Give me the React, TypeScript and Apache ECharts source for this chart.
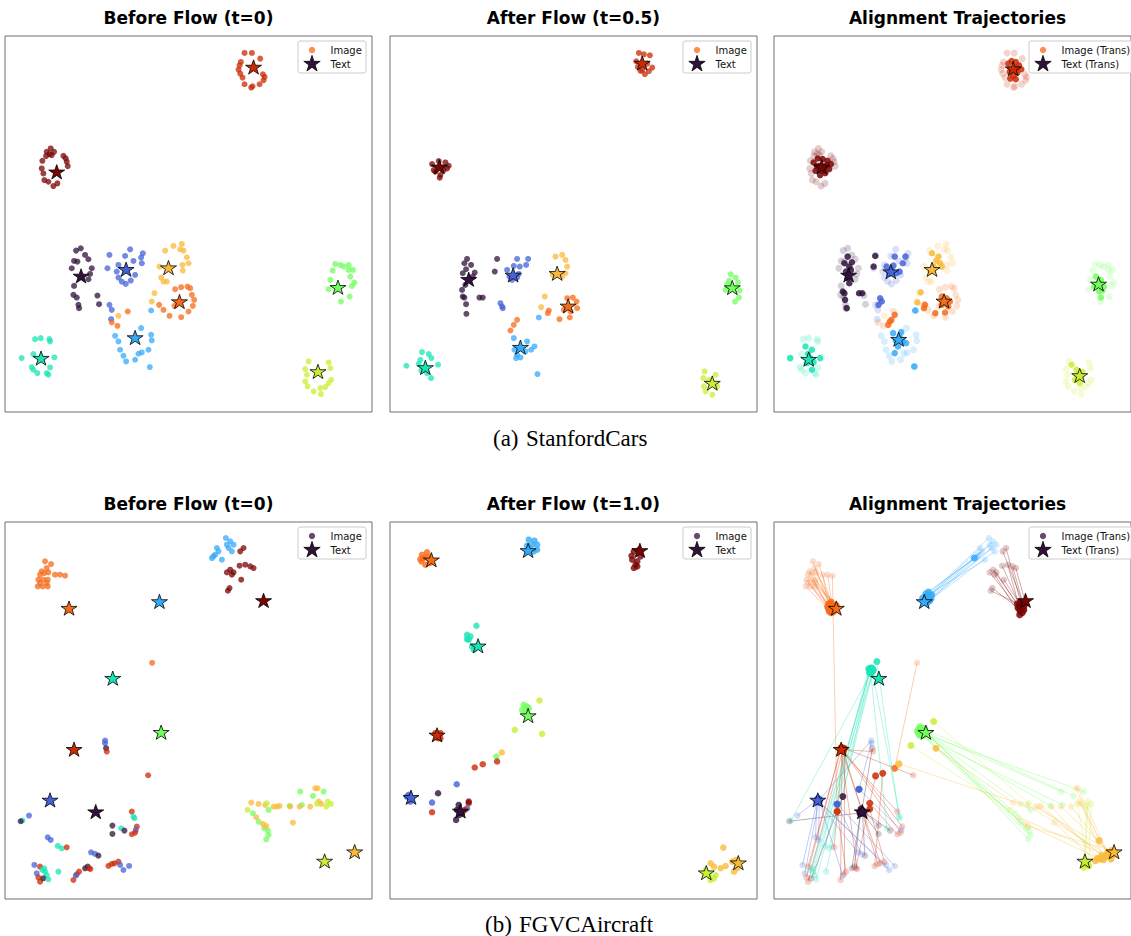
import React, { useEffect, useRef } from "react";
import * as echarts from "echarts";

// turbo colormap, 10 classes
const CLASS_COLORS = [
  "#30123b", "#4662d7", "#36aaf9", "#1ae4b6", "#72fe5e",
  "#c8ef34", "#faba39", "#f66b19", "#cb2a04", "#7a0403",
];

type Pt = [number, number, number];
type XY = [number, number];

const PANEL_TITLES = [
  "Before Flow (t=0)", "After Flow (t=0.5)", "Alignment Trajectories",
  "Before Flow (t=0)", "After Flow (t=1.0)", "Alignment Trajectories",
];
const CAPTIONS = [["(a)", "StanfordCars"], ["(b)", "FGVCAircraft"]];
const LEGEND_LABELS = [["Image", "Text"], ["Image", "Text"], ["Image (Trans)", "Text (Trans)"]];

// ---------------- StanfordCars ----------------
const carsBeforeImage: Pt[] = [
  [718,1079,8],[740,1079,8],[765,1062,8],[707,1052,8],[703,1042,8],[700,1029,8],[705,1017,8],[712,1005,8],
  [718,985,8],[738,975,8],[742,979,8],[763,985,8],[775,997,8],[778,1007,8],[773,1015,8],
  [137,792,9],[125,782,9],[147,782,9],[123,769,9],[140,772,9],[175,770,9],[182,762,9],[185,752,9],[188,739,9],
  [112,755,9],[110,732,9],[115,717,9],[118,697,9],[130,692,9],[145,679,9],[157,687,9],[133,775,9],
  [227,492,0],[213,485,0],[240,472,0],[207,454,0],[217,452,0],[250,459,0],[200,432,0],[260,432,0],[255,415,0],
  [250,399,0],[207,379,0],[205,352,0],[215,344,0],[220,322,0],[222,312,0],[277,350,0],[282,324,0],
  [375,489,1],[360,469,1],[313,472,1],[413,477,1],[408,464,1],[385,454,1],[410,447,1],[340,442,1],[307,432,1],
  [335,422,1],[390,412,1],[340,404,1],[350,392,1],[362,385,1],[377,395,1],[313,322,1],[320,307,1],[318,279,1],
  [530,505,6],[505,499,6],[480,485,6],[525,489,6],[535,485,6],[545,465,6],[550,447,6],[532,442,6],[533,425,6],
  [463,437,6],[468,404,6],[475,392,6],[485,392,6],[448,357,6],[440,332,6],[340,289,6],
  [510,369,7],[528,375,7],[547,377,7],[555,372,7],[560,352,7],[567,337,7],[563,319,7],[550,302,7],[528,285,7],
  [493,289,7],[475,307,7],[462,322,7],[508,319,7],[368,302,7],[320,269,7],[337,259,7],
  [408,252,2],[438,232,2],[440,215,2],[430,187,2],[410,179,2],[400,175,2],[390,157,2],[363,152,2],[355,169,2],
  [345,187,2],[340,212,2],[330,229,2],[438,305,2],[434,135,2],
  [90,219,3],[107,222,3],[133,219,3],[135,212,3],[85,174,3],[148,164,3],[50,162,3],[80,135,3],[135,134,3],
  [85,127,3],[97,117,3],[130,112,3],[125,117,3],
  [990,445,4],[1005,442,4],[1030,442,4],[1043,427,4],[1030,427,4],[982,425,4],[975,397,4],[1035,407,4],
  [1047,389,4],[1040,379,4],[970,369,4],[1033,347,4],[1007,332,4],[1015,437,4],
  [910,152,5],[970,149,5],[975,132,5],[900,129,5],[905,112,5],[978,97,5],[970,87,5],[900,92,5],[907,77,5],
  [925,62,5],[947,54,5],[945,72,5],[960,75,5],
];
const carsBeforeText: Pt[] = [
  [745,1037,8],[155,722,9],[228,409,0],[363,429,1],[490,434,6],[523,332,7],[390,224,2],[108,162,3],[998,375,4],[938,122,5],
];
const carsMidImage: Pt[] = [
  [746,1079,8],[761,1075,8],[779,1072,8],[738,1054,8],[743,1037,8],[751,1025,8],[764,1015,8],[776,1024,8],
  [786,1035,8],[771,1047,8],[756,1027,8],
  [126,745,9],[146,754,9],[166,750,9],[176,740,9],[161,727,9],[136,722,9],[149,704,9],[131,727,9],[171,732,9],[151,712,9],
  [231,460,0],[223,447,0],[243,442,0],[228,429,0],[218,417,0],[254,419,0],[248,407,0],[226,382,0],[216,367,0],
  [218,347,0],[223,344,0],[228,324,0],[229,295,0],[268,344,0],[278,344,0],[321,460,0],[314,422,0],
  [381,460,1],[414,460,1],[408,442,1],[389,437,1],[371,439,1],[351,427,1],[358,407,1],[366,397,1],[381,404,1],
  [386,415,1],[331,327,1],[336,317,1],[338,312,1],
  [496,467,6],[516,472,6],[526,457,6],[531,437,6],[526,417,6],[516,407,6],[488,412,6],[464,347,6],[453,315,6],
  [531,342,7],[548,344,7],[559,332,7],[561,312,7],[541,302,7],[521,307,7],[476,305,7],[473,297,7],[508,279,7],
  [539,284,7],[381,277,7],[371,262,7],[361,245,7],
  [371,222,2],[411,212,2],[433,197,2],[423,187,2],[406,182,2],[381,172,2],[378,162,2],[391,164,2],[373,187,2],
  [442,114,2],[446,284,2],
  [96,180,3],[116,174,3],[124,162,3],[91,157,3],[86,145,3],[144,142,3],[49,139,3],[94,125,3],[111,117,3],[123,102,3],[106,127,3],
  [1021,414,4],[1036,404,4],[1043,389,4],[1011,384,4],[1006,367,4],[1048,365,4],[1034,332,4],[1046,344,4],[1016,394,4],
  [943,122,5],[976,112,5],[939,102,5],[941,77,5],[946,62,5],[966,52,5],[981,77,5],[956,97,5],
];
const carsMidText: Pt[] = [
  [756,1049,8],[148,737,9],[236,399,0],[369,412,1],[501,417,6],[534,319,7],[391,195,2],[106,134,3],[1026,374,4],[966,87,5],
];
// transported image points shown in the trajectory panel
const carsTransImage: Pt[] = [
  [722,1047,8],[732,1055,8],[745,1052,8],[755,1042,8],[762,1030,8],[750,1020,8],[738,1010,8],[728,1002,8],
  [745,1000,8],[735,1030,8],[748,1035,8],[726,1022,8],
  [122,750,9],[135,762,9],[150,760,9],[165,755,9],[175,745,9],[170,730,9],[158,718,9],[142,712,9],
  [128,725,9],[140,740,9],[155,735,9],[148,725,9],[132,738,9],[162,742,9],
  [227,467,0],[217,447,0],[232,437,0],[222,422,0],[237,427,0],[227,402,0],[232,387,0],[212,362,0],
  [217,357,0],[219,337,0],[224,312,0],[262,357,0],[272,357,0],[312,469,0],[307,437,0],[240,450,0],
  [347,437,1],[362,427,1],[377,417,1],[387,422,1],[397,447,1],[405,467,1],[372,467,1],[355,415,1],
  [368,440,1],[327,342,1],[332,332,1],[322,322,1],
  [487,477,6],[507,467,6],[512,447,6],[517,437,6],[492,437,6],[482,422,6],[500,455,6],[452,360,6],[442,329,6],
  [517,347,7],[532,342,7],[542,332,7],[537,317,7],[517,322,7],[527,330,7],[497,297,7],[465,322,7],[462,312,7],
  [527,299,7],[352,262,7],[362,277,7],[372,292,7],[357,272,7],
  [367,237,2],[387,227,2],[397,212,2],[382,197,2],[372,177,2],[407,207,2],[375,215,2],[392,240,2],[435,305,2],[432,137,2],
  [97,197,3],[117,187,3],[112,162,3],[102,147,3],[117,127,3],[105,175,3],[122,150,3],[50,162,3],[142,162,3],
  [992,407,4],[1007,397,4],[1017,377,4],[1002,362,4],[987,377,4],[1007,344,4],[1000,390,4],[1012,365,4],
  [917,142,5],[932,127,5],[947,107,5],[942,87,5],[927,97,5],[950,120,5],[935,110,5],
];
const carsTrajText: Pt[] = [
  [737,1032,8],[147,737,9],[230,412,0],[360,422,1],[487,429,6],[524,334,7],[384,219,2],[107,159,3],[1000,385,4],[942,110,5],
];

// ---------------- FGVCAircraft ----------------
const aircraftBeforeImage: Pt[] = [
  // orange
  [120,1012,7],[138,1004,7],[125,992,7],[110,982,7],[105,972,7],[118,977,7],[130,979,7],[150,972,7],[165,972,7],
  [180,969,7],[100,957,7],[115,957,7],[128,957,7],[98,937,7],[113,937,7],[128,937,7],[105,947,7],[125,947,7],
  // light blue
  [662,1082,2],[675,1072,2],[685,1062,2],[635,1052,2],[665,1062,2],[680,1042,2],[625,1027,2],[620,1022,2],
  [650,1017,2],[640,1042,2],[630,1032,2],[670,1052,2],
  // dark red
  [715,1052,9],[705,1042,9],[720,1002,9],[703,999,9],[735,997,9],[745,992,9],[675,987,9],[665,979,9],
  [685,979,9],[680,972,9],[708,957,9],[673,932,9],[668,924,9],
  // middle stragglers
  [441,708,7],[300,475,1],[300,467,1],[303,452,0],[305,442,8],[429,371,8],
  // bottom-left mixture
  [72,250,1],[52,235,3],[47,233,0],[128,185,1],[137,177,1],[158,159,3],[170,152,3],[185,155,8],
  [258,140,1],[270,135,1],[280,130,0],[322,220,0],[322,195,0],[348,212,3],[358,205,0],
  [380,262,8],[385,247,3],[388,242,3],[395,217,8],[392,207,1],[380,194,8],[390,199,8],
  [88,102,1],[105,97,8],[95,77,1],[100,65,8],[105,52,8],[112,87,3],[120,82,3],[125,72,3],[115,62,0],
  [130,59,3],[118,92,3],[160,82,3],[205,57,8],[215,74,8],[222,82,8],[212,70,1],[240,92,0],[248,97,0],
  [252,92,8],[256,90,8],[310,99,8],[320,105,8],[328,107,8],[340,112,8],[345,102,1],[355,87,1],[372,99,1],
  // bottom-right: green
  [885,322,4],[923,309,4],[955,322,4],[743,257,4],[760,232,4],[790,267,4],[777,212,4],[788,205,4],
  [790,192,4],[783,179,4],[853,279,4],[890,282,4],
  // bottom-right: yellow
  [930,332,6],[937,332,6],[738,289,6],[760,285,6],[780,282,6],[805,277,6],[815,277,6],[823,279,6],
  [855,277,6],[883,277,6],[915,277,6],[940,292,6],[948,285,6],[753,245,6],[773,225,6],[783,219,6],[863,229,6],
  // bottom-right: yellow-green
  [727,267,5],[785,287,5],[967,292,5],[977,285,5],[963,277,5],[935,285,5],
];
// transported positions of the same image points (same order)
const aircraftTransImage: XY[] = [
  [170,880],[178,884],[185,878],[168,870],[175,866],[182,872],[188,866],[172,860],[180,876],
  [194,262],[165,876],[176,890],[190,874],[170,864],[178,858],[184,862],[168,884],[192,880],
  [470,905],[478,910],[484,900],[465,895],[472,888],[480,895],[468,915],[476,920],
  [458,902],[617,1022],[486,912],[474,898],
  [760,890],[768,884],[755,878],[762,870],[770,876],[775,888],[750,885],[758,864],
  [765,858],[757,852],[770,866],[752,872],[763,880],
  [372,392],[140,298],[262,329],[270,262],[212,448],[215,452],
  [138,300],[300,680],[265,258],[132,292],[140,296],[295,688],[305,684],[212,452],
  [136,290],[194,284],[272,266],[268,270],[274,258],[298,676],[276,262],
  [206,446],[317,712],[302,692],[210,452],[262,329],[295,287],[214,444],
  [134,298],[208,454],[138,292],[205,450],[212,446],[296,684],[302,680],[292,690],[212,307],
  [306,688],[298,692],[294,678],[210,448],[216,452],[195,262],[136,302],[268,264],[266,256],
  [313,369],[206,452],[335,377],[212,450],[208,446],[295,270],[132,296],[140,292],[195,285],
  [452,505],[458,512],[448,498],[462,500],[455,494],[445,508],[450,516],[460,490],
  [442,502],[465,508],[456,500],[447,492],
  [1002,175],[1030,135],[499,452],[385,405],[1035,128],[1042,140],[1020,125],[1010,130],
  [998,122],[1045,132],[1028,140],[1038,120],[1015,118],[1025,130],[1005,120],[1040,145],[990,115],
  [422,460],[492,532],[960,105],[970,100],[955,95],[965,112],
];
const aircraftBeforeText: Pt[] = [
  [192,872,7],[463,892,2],[775,895,9],[323,662,3],[468,500,4],[207,449,8],[135,297,1],[272,262,0],[958,114,5],[1048,142,6],
];
const aircraftAfterImage: Pt[] = [
  [96,1032,7],[111,1039,7],[94,1012,7],[106,1002,7],[119,1007,7],[101,1022,7],[114,1025,7],[91,1019,7],
  [416,1077,2],[433,1074,2],[441,1062,2],[431,1042,2],[418,1052,2],[426,1062,2],[441,1047,2],[411,1059,2],
  [731,1042,9],[746,1047,9],[726,1017,9],[736,1002,9],[741,997,9],[731,992,9],[751,1027,9],[724,1029,9],[741,1012,9],
  [259,819,3],[231,792,3],[241,787,3],[236,777,3],[246,757,3],[251,747,3],[231,779,3],
  [401,582,4],[411,577,4],[396,567,4],[406,562,4],[416,572,4],[319,427,4],
  [448,595,5],[374,507,5],[456,495,5],
  [335,439,6],[321,412,8],[254,394,8],[278,404,8],
  [136,497,8],[151,497,8],[144,482,8],[151,482,8],
  [51,307,1],[61,292,1],[56,312,1],[200,344,1],[126,289,1],[231,272,1],
  [144,317,0],[206,282,0],[201,267,0],[216,257,0],[208,252,0],[198,237,0],
  [126,260,8],[224,267,8],[236,287,8],[236,292,9],
  [999,154,6],[1006,99,6],[991,92,6],[1026,112,6],[1036,117,6],[1041,92,6],[1031,82,6],[961,107,6],[971,97,6],
  [956,72,5],[971,62,5],[961,57,5],[976,72,5],[946,87,5],
];
const aircraftAfterText: Pt[] = [
  [124,1017,7],[414,1045,2],[749,1045,9],[264,759,3],[414,550,4],[141,492,8],[63,305,1],[211,264,0],[948,79,5],[1044,109,6],
];

// ---------------- drawing ----------------
const STAR_PATH =
  "path://M100,0 L122.45,69.1 L195.1,69.1 L136.3,111.8 L158.8,180.9 L100,138.2 L41.2,180.9 L63.7,111.8 L4.9,69.1 L77.55,69.1 Z";
const STAR_UNIT: XY[] = [
  [0,-1],[0.2245,-0.309],[0.951,-0.309],[0.363,0.118],[0.588,0.809],
  [0,0.382],[-0.588,0.809],[-0.363,0.118],[-0.951,-0.309],[-0.2245,-0.309],
];

const PANELS = [
  { left: 5, top: 36 }, { left: 390, top: 36 }, { left: 774, top: 36 },
  { left: 5, top: 522 }, { left: 390, top: 522 }, { left: 774, top: 522 },
];
const PW = 367;
const PH = 376;

function imageSeries(idx: number, pts: Pt[], opacity: number, z: number, size = 6) {
  return {
    type: "scatter", xAxisIndex: idx, yAxisIndex: idx, symbol: "circle", symbolSize: size, z,
    silent: true,
    data: pts.map(([x, y, c]) => ({ value: [x, y], itemStyle: { color: CLASS_COLORS[c], opacity } })),
  };
}
function textSeries(idx: number, pts: Pt[]) {
  return {
    type: "scatter", xAxisIndex: idx, yAxisIndex: idx, symbol: STAR_PATH, symbolSize: [16, 15],
    symbolKeepAspect: true, z: 10, silent: true,
    data: pts.map(([x, y, c]) => ({
      value: [x, y],
      itemStyle: { color: CLASS_COLORS[c], borderColor: "#000", borderWidth: 0.8, opacity: 1 },
    })),
  };
}

function legendGraphic(p: number, labels: string[], imgColor: string, wide: boolean) {
  const P = PANELS[p];
  const bx = P.left + (wide ? 255 : 293);
  const by = P.top + 5;
  const cx = bx + 14;
  const R = 8.6;
  const cy2 = by + 23;
  return {
    type: "group",
    children: [
      { type: "rect", shape: { x: bx, y: by, width: wide ? 120 : 68, height: 32, r: 2 },
        style: { fill: "rgba(255,255,255,0.85)", stroke: "#cccccc", lineWidth: 1 } },
      { type: "circle", shape: { cx, cy: by + 9, r: 3.2 }, style: { fill: imgColor } },
      { type: "polygon", shape: { points: STAR_UNIT.map(([ux, uy]) => [cx + ux * R, cy2 + uy * R]) },
        style: { fill: CLASS_COLORS[0], stroke: "#000", lineWidth: 0.8 } },
      { type: "text", x: bx + 32.5, y: by + 9,
        style: { text: labels[0], font: '10px "DejaVu Sans"', fill: "#111", align: "left", verticalAlign: "middle", textAlign: "left", textVerticalAlign: "middle" } },
      { type: "text", x: bx + 32.5, y: cy2,
        style: { text: labels[1], font: '10px "DejaVu Sans"', fill: "#111", align: "left", verticalAlign: "middle", textAlign: "left", textVerticalAlign: "middle" } },
    ],
  };
}

function buildOption() {
  const grid = PANELS.map((P) => ({
    left: P.left, top: P.top, width: PW, height: P.top > 100 ? PH + 1 : PH,
    show: true, borderColor: "#6e6e6e", borderWidth: 1, backgroundColor: "transparent", containLabel: false,
  }));
  const xAxis = PANELS.map((_, i) => ({ gridIndex: i, type: "value", min: 0, max: 1100, show: false }));
  const yAxis = PANELS.map((_, i) => ({ gridIndex: i, type: "value", min: 0, max: 1130, show: false }));

  const series: any[] = [
    imageSeries(0, carsBeforeImage, 0.75, 3),
    textSeries(0, carsBeforeText),
    imageSeries(1, carsMidImage, 0.75, 3),
    textSeries(1, carsMidText),
    imageSeries(2, carsBeforeImage, 0.2, 2, 7),
    imageSeries(2, carsTransImage, 0.85, 3, 6.5),
    textSeries(2, carsTrajText),
    imageSeries(3, aircraftBeforeImage, 0.75, 3),
    textSeries(3, aircraftBeforeText),
    imageSeries(4, aircraftAfterImage, 0.8, 3, 6.5),
    textSeries(4, aircraftAfterText),
    {
      type: "lines", coordinateSystem: "cartesian2d", xAxisIndex: 5, yAxisIndex: 5, z: 1, silent: true,
      data: aircraftBeforeImage.map(([x, y, c], i) => ({
        coords: [[x, y], aircraftTransImage[i]],
        lineStyle: { color: CLASS_COLORS[c], opacity: 0.33, width: 1 },
      })),
      lineStyle: { width: 1, opacity: 0.33 },
    },
    imageSeries(5, aircraftBeforeImage, 0.22, 2, 6.5),
    imageSeries(5, aircraftBeforeImage.map(([, , c], i) => [aircraftTransImage[i][0], aircraftTransImage[i][1], c] as Pt), 0.85, 3, 7),
    textSeries(5, aircraftBeforeText),
  ];

  const graphic: any[] = [];
  PANELS.forEach((P, i) => {
    graphic.push({
      type: "text", x: P.left + PW / 2, y: P.top > 100 ? 503.5 : 17.5,
      style: { text: PANEL_TITLES[i], font: 'bold 17px "DejaVu Sans"', fill: "#000",
        align: "center", verticalAlign: "middle", textAlign: "center", textVerticalAlign: "middle" },
    });
    const col = i < 3 ? "rgba(246,107,25,0.75)" : "rgba(48,18,59,0.75)";
    graphic.push(legendGraphic(i, LEGEND_LABELS[i % 3], col, i % 3 === 2));
  });
  const capY = [438, 924];
  const capX = [[493, 526], [485, 519]];
  CAPTIONS.forEach((cap, r) => {
    cap.forEach((t, k) => {
      graphic.push({
        type: "text", x: capX[r][k], y: capY[r],
        style: { text: t, font: '23px "Liberation Serif"', fill: "#000",
          align: "left", verticalAlign: "middle", textAlign: "left", textVerticalAlign: "middle" },
      });
    });
  });

  return { animation: false, backgroundColor: "#ffffff", grid, xAxis, yAxis, series, graphic };
}

export default function App() {
  const ref = useRef<HTMLDivElement>(null);
  useEffect(() => {
    const chart = echarts.init(ref.current!, null, { renderer: "svg" });
    chart.setOption(buildOption() as any);
    return () => chart.dispose();
  }, []);
  return (
    <div
      ref={ref}
      style={{ position: "absolute", left: 0, top: 0, width: 1131, height: 936, background: "#fff" }}
    />
  );
}
